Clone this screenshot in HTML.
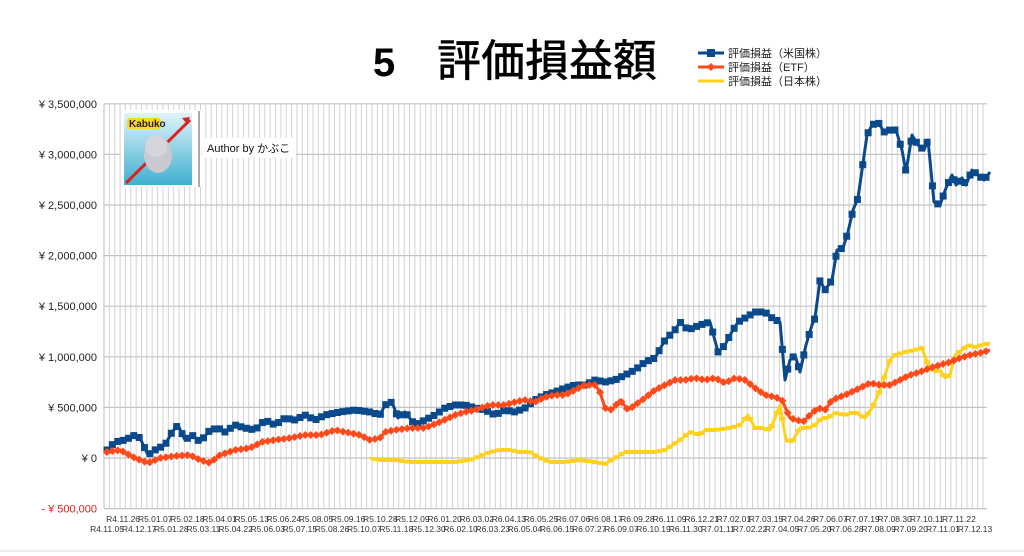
<!DOCTYPE html>
<html><head><meta charset="utf-8"><style>
html,body{margin:0;padding:0;background:#fff;width:1024px;height:556px;overflow:hidden}
svg{display:block}
</style></head><body>
<svg id="s" width="1024" height="556" xmlns="http://www.w3.org/2000/svg" font-family="Liberation Sans, Noto Sans CJK JP, sans-serif">
<rect width="1024" height="556" fill="#fff"/>
<line x1="0" y1="551" x2="1024" y2="551" stroke="#ddd" stroke-width="1"/>
<g id="grid"></g>
<text x="373" y="76" font-size="40" font-weight="bold" font-family="Liberation Sans, sans-serif">5</text>
<text x="437" y="76" font-size="44" font-family="Noto Sans CJK JP, sans-serif" font-weight="500">評価損益額</text>
<g font-size="11" font-family="Liberation Sans, Noto Sans CJK JP, sans-serif" fill="#222">
<line x1="698" y1="53" x2="724" y2="53" stroke="#0a4a8c" stroke-width="3"/><rect x="707" y="49" width="8" height="8" fill="#0a4a8c"/>
<text x="728" y="57">評価損益（米国株）</text>
<line x1="698" y1="67" x2="724" y2="67" stroke="#ff4a1c" stroke-width="3"/><path d="M711 63l4 4-4 4-4-4z" fill="#ff4a1c"/>
<text x="728" y="71">評価損益（ETF）</text>
<line x1="698" y1="81" x2="724" y2="81" stroke="#ffd21f" stroke-width="3"/>
<text x="728" y="85">評価損益（日本株）</text>
</g>
<g id="ylab" font-size="11" text-anchor="end" fill="#222"></g>
<g id="xlab" font-size="8.5" text-anchor="middle" fill="#333"></g>
<g id="series"></g>
<rect x="121" y="110" width="80" height="77" fill="#fff"/>
<line x1="199" y1="111" x2="199" y2="187" stroke="#555" stroke-width="1"/>
<defs><linearGradient id="lg" x1="0" y1="0" x2="0" y2="1"><stop offset="0" stop-color="#dff3fb"/><stop offset="1" stop-color="#3fb0d0"/></linearGradient></defs>
<rect x="124" y="113" width="68" height="72" fill="url(#lg)"/>
<line x1="126" y1="183" x2="190" y2="120" stroke="#d22" stroke-width="3"/>
<path d="M190 117l-8 1 5 6z" fill="#d22"/>
<ellipse cx="158" cy="155" rx="14" ry="18" fill="#c9c9d2"/>
<circle cx="156" cy="146" r="11" fill="#d5d5dd"/>
<rect x="127" y="118" width="34" height="11" rx="3" fill="#ffd52a"/>
<text x="129" y="127" font-size="10" font-weight="bold" fill="#222">Kabuko</text>
<rect x="202" y="138" width="94" height="20" fill="#fff"/>
<text x="207" y="152" font-size="11" fill="#111">Author by かぶこ</text>
</svg>
<script>
(function(){
var ns="http://www.w3.org/2000/svg";
function el(t,a,p){var e=document.createElementNS(ns,t);for(var k in a)e.setAttribute(k,a[k]);p.appendChild(e);return e;}
var grid=document.getElementById('grid'),yl=document.getElementById('ylab'),xl=document.getElementById('xlab'),se=document.getElementById('series');
var L=104,R=987,T=104,B=508;
function Y(v){return 458-v*101.2/1e6;}
for(var x=L;x<=R+0.5;x+=5.36){el('line',{x1:x.toFixed(1),y1:T,x2:x.toFixed(1),y2:B,stroke:'#d2d2d2','stroke-width':1},grid);}
for(var v=-5e5;v<=3.5e6;v+=5e5){var y=Y(v);el('line',{x1:L,y1:y,x2:R,y2:y,stroke:'#c4c4c4','stroke-width':1.2},grid);
 var t=el('text',{x:97,y:y+4},yl);
 if(v<0){t.textContent='- ¥ 500,000';t.setAttribute('fill','#e02020');}
 else t.textContent='¥ '+(v==0?'0':v.toLocaleString('en-US'));
}
el('line',{x1:L,y1:T,x2:L,y2:B,stroke:'#bbb','stroke-width':1},grid);
var topL=["R4.11.26","R5.01.07","R5.02.18","R5.04.01","R5.05.13","R5.06.24","R5.08.05","R5.09.16","R5.10.28","R5.12.09","R6.01.20","R6.03.02","R6.04.13","R6.05.25","R6.07.06","R6.08.17","R6.09.28","R6.11.09","R6.12.21","R7.02.01","R7.03.15","R7.04.26","R7.06.07","R7.07.19","R7.08.30","R7.10.11","R7.11.22"];
var botL=["R4.11.05","R4.12.17","R5.01.28","R5.03.11","R5.04.22","R5.06.03","R5.07.15","R5.08.26","R5.10.07","R5.11.18","R5.12.30","R6.02.10","R6.03.23","R6.05.04","R6.06.15","R6.07.27","R6.09.07","R6.10.19","R6.11.30","R7.01.11","R7.02.22","R7.04.05","R7.05.20","R7.06.28","R7.08.09","R7.09.20","R7.11.01","R7.12.13"];
var st=(975-107)/27;
botL.forEach(function(s,i){var t=el('text',{x:(107+i*st).toFixed(1),y:532},xl);t.textContent=s;});
topL.forEach(function(s,i){var t=el('text',{x:(107+st/2+i*st).toFixed(1),y:522},xl);t.textContent=s;});
function P(s){return s.trim().split(/\)\s*,?\s*\(/).map(function(q){q=q.replace(/[()]/g,'');var a=q.split(',');return [+a[0],+a[1]];});}
var yel=P("(370,458),(380,460),(395,460),(410,462),(425,462),(440,462),(455,462),(470,460),(480,456),(490,452),(500,450),(510,450),(520,452),(530,452),(540,458),(550,462),(565,462),(580,460),(595,462),(605,464),(615,458),(625,452),(640,452),(655,452),(665,450),(680,440),(690,432),(700,435),(705,430),(715,430),(730,428),(740,425),(748,415),(755,428),(762,428),(770,430),(775,418),(780,405),(786,440),(792,442),(800,428),(808,428),(815,425),(822,418),(828,418),(835,413),(845,415),(855,412),(865,418),(872,408),(878,395),(885,375),(890,360),(895,355),(905,352),(915,350),(922,348),(928,365),(935,372),(940,370),(945,378),(950,375),(955,355),(962,350),(968,345),(975,347),(982,345),(990,343)");
var org=P("(107,452),(120,450),(135,458),(148,463),(160,458),(175,456),(190,455),(200,460),(210,463),(220,455),(235,450),(250,448),(262,442),(275,440),(290,438),(305,435),(320,435),(335,430),(345,432),(360,435),(370,440),(380,438),(385,432),(395,430),(410,428),(425,428),(440,422),(455,415),(465,412),(475,410),(490,405),(505,405),(515,402),(525,400),(535,402),(545,397),(555,395),(565,395),(575,390),(585,385),(595,385),(600,392),(605,408),(612,410),(620,400),(628,410),(635,405),(645,398),(655,390),(665,385),(675,380),(685,380),(695,378),(705,380),(715,378),(725,383),(735,378),(745,380),(755,388),(765,395),(775,397),(782,400),(790,418),(797,420),(803,422),(810,415),(818,408),(825,410),(832,400),(845,395),(860,388),(870,383),(880,385),(890,385),(900,380),(910,375),(920,372),(930,368),(940,365),(950,362),(960,358),(970,355),(980,353),(990,350)");
var blu=P("(107,450),(115,442),(125,440),(135,435),(140,438),(148,455),(155,450),(165,445),(172,432),(178,425),(185,440),(192,435),(200,442),(210,430),(218,428),(225,432),(235,425),(245,428),(255,430),(265,420),(275,425),(285,418),(295,420),(305,415),(315,420),(325,415),(340,412),(355,410),(370,412),(380,415),(385,405),(392,402),(398,418),(405,412),(415,425),(425,420),(435,415),(445,408),(455,405),(465,405),(475,408),(485,410),(495,415),(505,410),(515,412),(525,408),(535,400),(545,395),(555,392),(565,388),(575,385),(585,385),(595,380),(605,382),(615,380),(625,375),(635,370),(645,362),(655,358),(665,340),(675,330),(680,322),(688,330),(700,325),(710,322),(718,352),(725,345),(730,335),(738,322),(745,318),(755,312),(765,312),(772,318),(780,322),(785,380),(790,360),(795,355),(800,372),(806,345),(812,325),(815,318),(820,280),(825,290),(832,280),(837,250),(843,248),(848,232),(853,210),(858,198),(862,170),(867,135),(872,125),(878,122),(884,132),(890,130),(896,130),(902,150),(906,172),(912,135),(918,145),(924,150),(928,140),(934,202),(940,205),(946,188),(952,175),(956,185),(962,178),(966,185),(972,170),(978,175),(984,180),(990,172)");
function interp(pts,x){for(var i=1;i<pts.length;i++){if(x<=pts[i][0]){var a=pts[i-1],b=pts[i];return a[1]+(b[1]-a[1])*(x-a[0])/(b[0]-a[0]);}}return pts[pts.length-1][1];}
function draw(pts,col,w,mk){
 el('polyline',{points:pts.map(function(p){return p.join(',');}).join(' '),fill:'none',stroke:col,'stroke-width':w,'stroke-linejoin':'round'},se);
 var m=[];for(var x=107;x<=pts[pts.length-1][0]+0.1;x+=5.36){if(x>=pts[0][0]-0.1)m.push([x,interp(pts,x)]);}
 m.forEach(function(p){
  if(mk=='sq')el('rect',{x:p[0]-3.5,y:p[1]-3.5,width:7,height:7,fill:col},se);
  else if(mk=='dm')el('path',{d:'M'+p[0]+' '+(p[1]-4)+'l4 4-4 4-4-4z',fill:col},se);
  else el('line',{x1:p[0]-3,y1:p[1],x2:p[0]+3,y2:p[1],stroke:col,'stroke-width':4},se);
 });
}
draw(yel,'#ffd21f',3,'ln');
draw(blu,'#0a4a8c',3,'sq');
draw(org,'#ff4a1c',3,'dm');
})();
</script>
</body></html>
